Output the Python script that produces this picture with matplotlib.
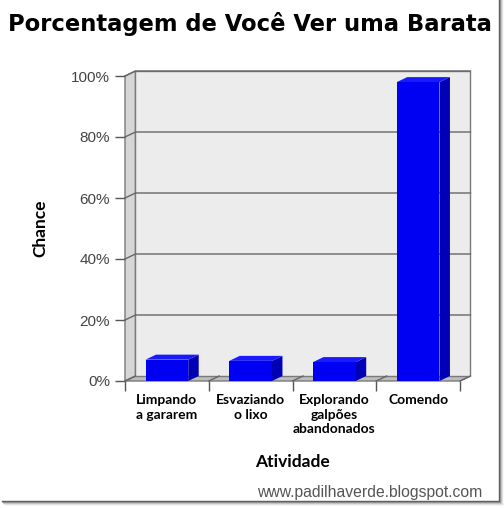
import matplotlib
matplotlib.use("Agg")
import matplotlib.pyplot as plt
from matplotlib.patches import Polygon, Rectangle
from matplotlib.lines import Line2D

categories = ["Limpando\na gararem", "Esvaziando\no lixo",
              "Explorando\ngalpões\nabandonados", "Comendo"]
values = [7.0, 6.6, 6.2, 98.0]
yticks = [0, 20, 40, 60, 80, 100]
ytick_labels = ["0%", "20%", "40%", "60%", "80%", "100%"]

W, H = 504, 508
fig = plt.figure(figsize=(W / 100, H / 100), dpi=100)
ax = fig.add_axes([125 / W, 127 / H, 335 / W, 305 / H])
n = len(categories)
ax.set_xlim(0, n)
ax.set_ylim(0, 100)
for s in ax.spines.values():
    s.set_visible(False)
ax.patch.set_visible(False)

# fake 3d depth, in data units
dx, dy = 0.125, 1.64
edge = "#7a7a7a"

ax.add_patch(Polygon([(0, 0), (n, 0), (n + dx, dy), (dx, dy)], closed=True,
                     fc="#bdbdbd", ec=edge, lw=1, clip_on=False, zorder=1))
ax.add_patch(Polygon([(0, 0), (dx, dy), (dx, 100 + dy), (0, 100)], closed=True,
                     fc="#d6d6d6", ec=edge, lw=1, clip_on=False, zorder=1))
ax.add_patch(Rectangle((dx, dy), n, 100, fc="#ececec", ec=edge, lw=1,
                       clip_on=False, zorder=1))
for t in yticks[1:]:
    ax.plot([0, dx, n + dx], [t, t + dy, t + dy], color="#666666", lw=1,
            clip_on=False, zorder=2)
for i in range(n + 1):
    ax.plot([i, i + dx], [0, dy], color="#666666", lw=1, clip_on=False, zorder=2)

# bars
w = 0.51
for i, v in enumerate(values):
    x0 = i + 0.5 - w / 2
    x1 = x0 + w
    ax.add_patch(Polygon([(x1, 0), (x1 + dx, dy), (x1 + dx, v + dy), (x1, v)],
                         closed=True, fc="#0000b4", ec="none", clip_on=False, zorder=3))
    ax.add_patch(Polygon([(x0, v), (x1, v), (x1 + dx, v + dy), (x0 + dx, v + dy)],
                         closed=True, fc="#1a1aff", ec="none", clip_on=False, zorder=3))
    ax.add_patch(Rectangle((x0, 0), w, v, fc="#0000f2", ec="none",
                           clip_on=False, zorder=4))

ax.set_yticks(yticks, ytick_labels)
ax.tick_params(axis="y", length=7.2, width=1, color="#555555",
               labelcolor="#444444", labelsize=11, pad=3.6)
for lab in ax.get_yticklabels():
    lab.set_fontfamily("Liberation Sans")

ax.set_xticks([i + 0.5 for i in range(n)], categories)
ax.set_xticks(range(n + 1), minor=True)
ax.tick_params(axis="x", which="major", length=0, pad=9.5)
ax.tick_params(axis="x", which="minor", length=7.2, width=1, color="#555555")
for lab in ax.get_xticklabels():
    lab.set_fontfamily("Lato")
    lab.set_fontweight("bold")
    lab.set_fontsize(10)
    lab.set_linespacing(1.25)

fig.text(250 / W, 1 - 24 / H, "Porcentagem de Você Ver uma Barata", ha="center",
         va="center", fontsize=16.3, fontweight="bold", family="DejaVu Sans")
fig.text(40 / W, 1 - 228 / H, "Chance", rotation=90, ha="center", va="center",
         fontsize=12.5, fontweight="bold", family="Lato")
fig.text(292 / W, 1 - 462 / H, "Atividade", ha="center", va="center",
         fontsize=12.5, fontweight="bold", family="Lato")
fig.text(370 / W, 1 - 493 / H, "www.padilhaverde.blogspot.com", ha="center",
         va="center", fontsize=11.3, color="#555555", family="Liberation Sans")

# photo frame with drop shadow (pixel coords)
for k, c in enumerate(["#555555", "#888888", "#bbbbbb", "#e0e0e0"]):
    fig.add_artist(Line2D([499 + k, 499 + k], [H - 501 - k, H], color=c, lw=1,
                          transform=None))
    fig.add_artist(Line2D([2 + k, 499 + k], [H - 501 - k, H - 501 - k], color=c,
                          lw=1, transform=None))

fig.savefig("out.png", dpi=100)
